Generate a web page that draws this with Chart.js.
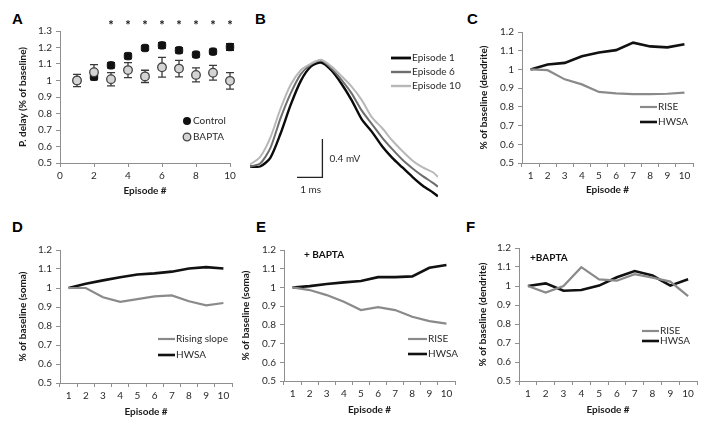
<!DOCTYPE html>
<html>
<head>
<meta charset="utf-8">
<script src="https://cdn.jsdelivr.net/npm/chart.js@4.4.1/dist/chart.umd.min.js"></script>
<style>
    body { margin: 0; background: #fff; }
    #fig { position: relative; width: 707px; height: 427px; overflow: hidden; }
    #fig canvas { position: absolute; }
    .tag { position: absolute; font: bold 15px "Liberation Sans", Arial, sans-serif; line-height: 15px; color: #000; }
</style>
</head>
<body>
<div id="fig">
    <div class="tag" style="left:12px;top:11px">A</div>
    <div class="tag" style="left:255px;top:11px">B</div>
    <div class="tag" style="left:467px;top:11px">C</div>
    <div class="tag" style="left:12px;top:219px">D</div>
    <div class="tag" style="left:256px;top:219px">E</div>
    <div class="tag" style="left:466px;top:219px">F</div>
    <canvas id="chartA"></canvas>
    <canvas id="chartB"></canvas>
    <canvas id="chartC"></canvas>
    <canvas id="chartD"></canvas>
    <canvas id="chartE"></canvas>
    <canvas id="chartF"></canvas>
</div>
<script>
// ---- data ----
const episodes = [1, 2, 3, 4, 5, 6, 7, 8, 9, 10];

// A: P. delay, mean +/- sem
const aControl    = [1.0, 1.022, 1.092, 1.148, 1.197, 1.213, 1.183, 1.157, 1.175, 1.203];
const aControlErr = [0.012, 0.01, 0.016, 0.016, 0.014, 0.016, 0.016, 0.014, 0.014, 0.02];
const aBapta      = [1.0, 1.05, 1.008, 1.063, 1.025, 1.08, 1.072, 1.034, 1.047, 0.998];
const aBaptaErr   = [0.037, 0.046, 0.04, 0.045, 0.037, 0.06, 0.05, 0.042, 0.045, 0.05];
const aStarred    = [3, 4, 5, 6, 7, 8, 9, 10];

// B: example traces (ms, mV)
const traceTime = [0, 0.4, 0.8, 1.2, 1.6, 2.0, 2.4, 2.8, 3.2, 3.6, 4.0, 4.4, 4.8, 5.2, 5.6, 6.0, 6.4, 6.8, 7.2, 7.4];
const trace1  = [0, 0, 0.09, 0.34, 0.64, 0.89, 1.04, 1.08, 1.0, 0.86, 0.69, 0.49, 0.36, 0.21, 0.09, -0.01, -0.11, -0.2, -0.27, -0.31];
const trace6  = [0, 0.03, 0.19, 0.5, 0.76, 0.96, 1.06, 1.1, 1.02, 0.9, 0.76, 0.58, 0.44, 0.3, 0.18, 0.07, -0.02, -0.1, -0.17, -0.21];
const trace10 = [0.02, 0.1, 0.3, 0.6, 0.85, 1.0, 1.07, 1.11, 1.04, 0.94, 0.83, 0.69, 0.51, 0.4, 0.27, 0.16, 0.06, -0.01, -0.06, -0.11];

// C-F: % of baseline
const cRise    = [1.0, 0.996, 0.947, 0.92, 0.88, 0.872, 0.868, 0.868, 0.87, 0.876];
const cHwsa    = [1.0, 1.026, 1.035, 1.07, 1.09, 1.103, 1.143, 1.123, 1.118, 1.135];
const dRising  = [1.0, 1.0, 0.951, 0.927, 0.941, 0.956, 0.961, 0.93, 0.909, 0.921];
const dHwsa    = [1.0, 1.022, 1.04, 1.057, 1.071, 1.077, 1.086, 1.103, 1.11, 1.103];
const eRise    = [1.0, 0.986, 0.959, 0.923, 0.879, 0.895, 0.879, 0.843, 0.82, 0.807];
const eHwsa    = [1.0, 1.007, 1.018, 1.027, 1.034, 1.055, 1.055, 1.059, 1.105, 1.12];
const fRise    = [1.0, 0.965, 1.0, 1.099, 1.035, 1.028, 1.062, 1.044, 1.023, 0.947];
const fHwsa    = [1.0, 1.014, 0.975, 0.979, 1.002, 1.046, 1.079, 1.055, 1.002, 1.035];

const INK = '#111111';
const GREY = '#8a8a8a';
const AXIS = '#8f8f8f';
const FONT = 'Lato, "Liberation Sans", sans-serif';

Chart.defaults.font.family = FONT;
Chart.defaults.font.size = 10;
Chart.defaults.color = '#2a2a2a';
Chart.defaults.animation = false;
Chart.defaults.responsive = false;
Chart.defaults.plugins.legend.display = false;
Chart.defaults.plugins.tooltip.enabled = false;

/**
 * Size and place a canvas so its plot area lands on the given page rect
 */
function placeCanvas(id, box) {
    const el = document.getElementById(id);
    el.width = box.w;
    el.height = box.h;
    el.style.left = box.x + 'px';
    el.style.top = box.y + 'px';
    return el.getContext('2d');
}

function fixSize(size, vertical) {
    return function(scale) {
        if (vertical) scale.width = size; else scale.height = size;
        scale.paddingLeft = scale.paddingRight = scale.paddingTop = scale.paddingBottom = 0;
    };
}

const oneDecimal = v => (Math.round(v * 10) / 10).toString();

function frameScales(box, area, yTitle, yTitleX, xTitleY) {
    const lh = 12;
    return {
        y: {
            afterFit: fixSize(area.l - box.x, true),
            border: { color: AXIS },
            grid: { drawOnChartArea: false, tickLength: 4, color: AXIS },
            ticks: { stepSize: 0.1, padding: 4, callback: oneDecimal },
            title: {
                display: true, text: yTitle, color: '#1a1a1a',
                font: { size: 10, weight: 'bold', lineHeight: 1.2 },
                padding: { top: yTitleX - box.x - lh / 2, bottom: 0 }
            }
        },
        x: {
            afterFit: fixSize(box.y + box.h - area.b, false),
            border: { color: AXIS },
            ticks: { padding: 3, maxRotation: 0, autoSkip: false },
            title: {
                display: true, text: 'Episode #', color: '#1a1a1a',
                font: { size: 10, weight: 'bold', lineHeight: 1.2 },
                padding: { top: 0, bottom: box.y + box.h - xTitleY - lh / 2 }
            }
        }
    };
}

function framePadding(box, area) {
    return { left: 0, top: area.t - box.y, right: box.x + box.w - area.r, bottom: 0 };
}

// legend with line samples, drawn at page coords
function lineLegend(box, entries) {
    return {
        id: 'lineLegend',
        afterDraw(chart) {
            const ctx = chart.ctx;
            ctx.save();
            ctx.font = '10px ' + FONT;
            ctx.textBaseline = 'middle';
            ctx.fillStyle = '#2a2a2a';
            entries.forEach(e => {
                ctx.strokeStyle = e.color;
                ctx.lineWidth = e.width;
                ctx.beginPath();
                ctx.moveTo(e.x - box.x, e.y - box.y);
                ctx.lineTo(e.x + e.len - box.x, e.y - box.y);
                ctx.stroke();
                ctx.fillText(e.text, e.x + e.len + 1 - box.x, e.y - box.y);
            });
            ctx.restore();
        }
    };
}

function noteText(box, text, x, y) {
    return {
        id: 'noteText',
        afterDraw(chart) {
            const ctx = chart.ctx;
            ctx.save();
            ctx.font = 'bold 10px ' + FONT;
            ctx.textBaseline = 'middle';
            ctx.fillStyle = '#111';
            ctx.fillText(text, x - box.x, y - box.y);
            ctx.restore();
        }
    };
}

function seriesPanel(id, box, area, yTitle, yTitleX, xTitleY, series, legendPos, note) {
    const ctx = placeCanvas(id, box);
    const scales = frameScales(box, area, yTitle, yTitleX, xTitleY);
    scales.y.min = 0.5;
    scales.y.max = 1.2;
    scales.x.type = 'category';
    scales.x.offset = true;
    scales.x.grid = { offset: true, drawOnChartArea: false, tickLength: 4, color: AXIS };

    const plugins = [lineLegend(box, series.map((s, i) => ({
        text: s.label, color: s.color, width: s.width,
        x: legendPos.x, y: legendPos.y + i * legendPos.gap, len: legendPos.len
    })))];
    if (note) plugins.push(noteText(box, note.text, note.x, note.y));

    new Chart(ctx, {
        type: 'line',
        data: {
            labels: episodes,
            datasets: series.map(s => ({
                label: s.label,
                data: s.data,
                borderColor: s.color,
                borderWidth: s.width,
                pointRadius: 0,
                tension: 0
            }))
        },
        options: {
            layout: { padding: framePadding(box, area) },
            scales: scales
        },
        plugins: plugins
    });
}

// ---- A ----
(function() {
    const box = { x: 0, y: 0, w: 240, h: 205 };
    const area = { l: 60, t: 31, r: 230, b: 163 };
    const ctx = placeCanvas('chartA', box);
    const scales = frameScales(box, area, 'P. delay (% of baseline)', 23, 191);
    scales.y.min = 0.5;
    scales.y.max = 1.3;
    scales.x.type = 'linear';
    scales.x.min = 0;
    scales.x.max = 10;
    scales.x.ticks.stepSize = 2;
    scales.x.grid = { drawOnChartArea: false, tickLength: 4, color: AXIS };

    const errorBars = {
        id: 'errorBars',
        beforeDatasetsDraw(chart) {
            const c = chart.ctx, xs = chart.scales.x, ys = chart.scales.y;
            c.save();
            [[aControl, aControlErr, INK], [aBapta, aBaptaErr, '#3a3a3a']].forEach(([vals, errs, col]) => {
                c.strokeStyle = col;
                c.lineWidth = 1.3;
                vals.forEach((v, i) => {
                    const px = xs.getPixelForValue(episodes[i]);
                    const top = ys.getPixelForValue(v + errs[i]);
                    const bot = ys.getPixelForValue(v - errs[i]);
                    c.beginPath();
                    c.moveTo(px, top); c.lineTo(px, bot);
                    c.moveTo(px - 4, top); c.lineTo(px + 4, top);
                    c.moveTo(px - 4, bot); c.lineTo(px + 4, bot);
                    c.stroke();
                });
            });
            c.restore();
        },
        afterDraw(chart) {
            const c = chart.ctx, xs = chart.scales.x;
            c.save();
            c.fillStyle = '#111';
            c.font = 'bold 13px ' + FONT;
            c.textAlign = 'center';
            c.textBaseline = 'middle';
            aStarred.forEach(ep => c.fillText('*', xs.getPixelForValue(ep), 26 - box.y));
            // legend
            c.font = '10px ' + FONT;
            c.textAlign = 'left';
            c.fillStyle = INK;
            c.beginPath(); c.arc(187, 121, 4, 0, Math.PI * 2); c.fill();
            c.fillStyle = '#d4d4d4'; c.strokeStyle = '#444'; c.lineWidth = 1.3;
            c.beginPath(); c.arc(187, 137, 3.8, 0, Math.PI * 2); c.fill(); c.stroke();
            c.fillStyle = '#2a2a2a';
            c.fillText('Control', 193, 121);
            c.fillText('BAPTA', 193, 137);
            c.restore();
        }
    };

    new Chart(ctx, {
        type: 'scatter',
        data: {
            datasets: [
                {
                    label: 'BAPTA',
                    data: episodes.map((e, i) => ({ x: e, y: aBapta[i] })),
                    pointRadius: 4.3,
                    pointBackgroundColor: '#d4d4d4',
                    pointBorderColor: '#444',
                    pointBorderWidth: 1.3,
                    clip: false
                },
                {
                    label: 'Control',
                    data: episodes.map((e, i) => ({ x: e, y: aControl[i] })),
                    pointRadius: 4.3,
                    pointStyle: 'rectRounded',
                    pointBackgroundColor: INK,
                    pointBorderColor: INK,
                    pointBorderWidth: 1,
                    clip: false
                }
            ]
        },
        options: {
            layout: { padding: framePadding(box, area) },
            scales: scales
        },
        plugins: [errorBars]
    });
})();

// ---- B ----
(function() {
    const box = { x: 250, y: 0, w: 220, h: 205 };
    const area = { l: 290, t: 51, r: 438, b: 163 };
    const ctx = placeCanvas('chartB', box);
    const barEndTime = 2.85, barBaseV = -0.114, barMs = 1, barMv = 0.4;

    const scaleBar = {
        id: 'scaleBar',
        afterDraw(chart) {
            const c = chart.ctx, xs = chart.scales.x, ys = chart.scales.y;
            const x1 = xs.getPixelForValue(barEndTime - barMs);
            const x2 = xs.getPixelForValue(barEndTime);
            const y1 = ys.getPixelForValue(barBaseV);
            const y2 = ys.getPixelForValue(barBaseV + barMv);
            c.save();
            c.strokeStyle = '#222';
            c.lineWidth = 1.3;
            c.beginPath();
            c.moveTo(x1, y1); c.lineTo(x2, y1); c.lineTo(x2, y2);
            c.stroke();
            c.fillStyle = '#2a2a2a';
            c.font = '10px ' + FONT;
            c.textBaseline = 'middle';
            c.fillText('0.4 mV', x2 + 7, (y1 + y2) / 2 + 1);
            c.textAlign = 'center';
            c.fillText('1 ms', (x1 + x2) / 2 + 1, y1 + 12);
            c.restore();
        }
    };

    const traces = [
        { label: 'Episode 1', data: trace1, color: '#0a0a0a', width: 2.4 },
        { label: 'Episode 6', data: trace6, color: '#6e6e6e', width: 2 },
        { label: 'Episode 10', data: trace10, color: '#b8b8b8', width: 2 }
    ];

    new Chart(ctx, {
        type: 'line',
        data: {
            datasets: traces.slice().reverse().map(t => ({
                label: t.label,
                data: traceTime.map((x, i) => ({ x: x, y: t.data[i] })),
                borderColor: t.color,
                borderWidth: t.width,
                pointRadius: 0,
                tension: 0.25
            }))
        },
        options: {
            layout: { padding: framePadding(box, area) },
            scales: {
                x: { type: 'linear', display: false, min: 0, max: 7.4 },
                y: { type: 'linear', display: false, min: -0.4, max: 1.2 }
            }
        },
        plugins: [scaleBar, lineLegend(box, traces.map((t, i) => ({
            text: t.label, color: t.color, width: t.width + 0.4,
            x: 391, y: 58 + i * 14, len: 20
        })))]
    });
})();

// ---- C-F ----
seriesPanel('chartC', { x: 470, y: 0, w: 237, h: 205 }, { l: 522, t: 32, r: 693, b: 163 },
    '% of baseline (dendrite)', 484, 190,
    [{ label: 'RISE', data: cRise, color: GREY, width: 2.2 },
     { label: 'HWSA', data: cHwsa, color: INK, width: 2.6 }],
    { x: 640, y: 107, gap: 15, len: 17 });

seriesPanel('chartD', { x: 0, y: 215, w: 240, h: 212 }, { l: 60, t: 250, r: 232, b: 383 },
    '% of baseline (soma)', 23, 412,
    [{ label: 'Rising slope', data: dRising, color: GREY, width: 2.2 },
     { label: 'HWSA', data: dHwsa, color: INK, width: 2.6 }],
    { x: 158, y: 339, gap: 16, len: 17 });

seriesPanel('chartE', { x: 235, y: 215, w: 230, h: 212 }, { l: 284, t: 250, r: 455, b: 381 },
    '% of baseline (soma)', 246, 410,
    [{ label: 'RISE', data: eRise, color: GREY, width: 2.2 },
     { label: 'HWSA', data: eHwsa, color: INK, width: 2.6 }],
    { x: 408, y: 339, gap: 15, len: 19 },
    { text: '+ BAPTA', x: 304, y: 255 });

seriesPanel('chartF', { x: 470, y: 215, w: 237, h: 212 }, { l: 519, t: 248, r: 697, b: 381 },
    '% of baseline (dendrite)', 483, 410,
    [{ label: 'RISE', data: fRise, color: GREY, width: 2.2 },
     { label: 'HWSA', data: fHwsa, color: INK, width: 2.6 }],
    { x: 642, y: 331, gap: 10, len: 17 },
    { text: '+BAPTA', x: 530, y: 258 });
</script>
</body>
</html>
